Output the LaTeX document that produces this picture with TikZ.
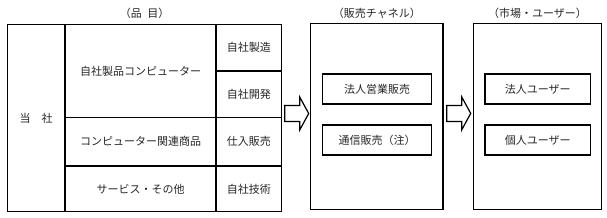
\documentclass[tikz,border=0pt]{standalone}
\usepackage{fontspec}
\newfontfamily\jpfont{Noto Sans CJK JP}
\usetikzlibrary{positioning,calc}
\tikzset{
	cell/.style={draw, line width=1.2pt, inner sep=0pt, outer sep=0pt, anchor=north west},
	inbox/.style={draw, line width=1.2pt, inner sep=0pt, minimum width=109pt, minimum height=30pt},
	head/.style={inner sep=0pt, yshift=10.5pt},
	blockarrow/.style={draw, line width=1.2pt, line join=miter, fill=white}
}
\begin{document}
\begin{tikzpicture}[x=1pt, y=-1pt, font=\jpfont\fontsize{11}{13}\selectfont, text=black!85]
	\useasboundingbox (0,0) rectangle (607,217);
	% product table
	\node[cell, minimum width=57.5pt, minimum height=187.4pt] (tosha) at (7.5,24.3) {当　社};
	\node[cell, minimum width=151pt, minimum height=93.2pt] (jisha) at (tosha.north east) {自社製品コンピューター};
	\node[cell, minimum width=151pt, minimum height=48.5pt] (kanren) at (jisha.south west) {コンピューター関連商品};
	\node[cell, minimum width=151pt, minimum height=45.7pt] (service) at (kanren.south west) {サービス・その他};
	\node[cell, minimum width=65.7pt, minimum height=46.7pt] (seizo) at (jisha.north east) {自社製造};
	\node[cell, minimum width=65.7pt, minimum height=46.5pt] (kaihatsu) at (seizo.south west) {自社開発};
	\node[cell, minimum width=65.7pt, minimum height=48.5pt] (shiire) at (kaihatsu.south west) {仕入販売};
	\node[cell, minimum width=65.7pt, minimum height=45.7pt] (gijutsu) at (shiire.south west) {自社技術};
	% channel and market boxes
	\node[cell, minimum width=132.3pt, minimum height=186pt] (channel) at (310.7,23.4) {};
	\node[cell, minimum width=128.4pt, minimum height=186pt] (market) at (473.3,23.4) {};
	\node[inbox] (eigyo) at (377,89) {法人営業販売};
	\node[inbox] (tsuhan) at (377,140) {通信販売（注）};
	\node[inbox, minimum width=105.7pt] (hojin) at (537.8,89) {法人ユーザー};
	\node[inbox, minimum width=105.7pt] (kojin) at (537.8,140) {個人ユーザー};
	% headings
	\node[head] (hhinmoku) at ($(tosha.north west)!0.5!(seizo.north east)$) {（品\hspace{0.5em}目）};
	\node[head] (hchannel) at (channel.north) {（販売チャネル）};
	\node[head] (hmarket) at (market.north) {（市場・ユーザー）};
	% block arrows
	\path (kaihatsu.south east) ++(3,-12) coordinate (ya1);
	\path (channel.east) ++(3.7,-11) coordinate (ya2);
	\foreach \s in {ya1,ya2}
		\draw[blockarrow] (\s) -- ++(15,0) -- ++(0,-8.5) -- ++(9,16.5) -- ++(-9,16.5) -- ++(0,-8.5) -- ++(-15,0) -- cycle;
\end{tikzpicture}
\end{document}
